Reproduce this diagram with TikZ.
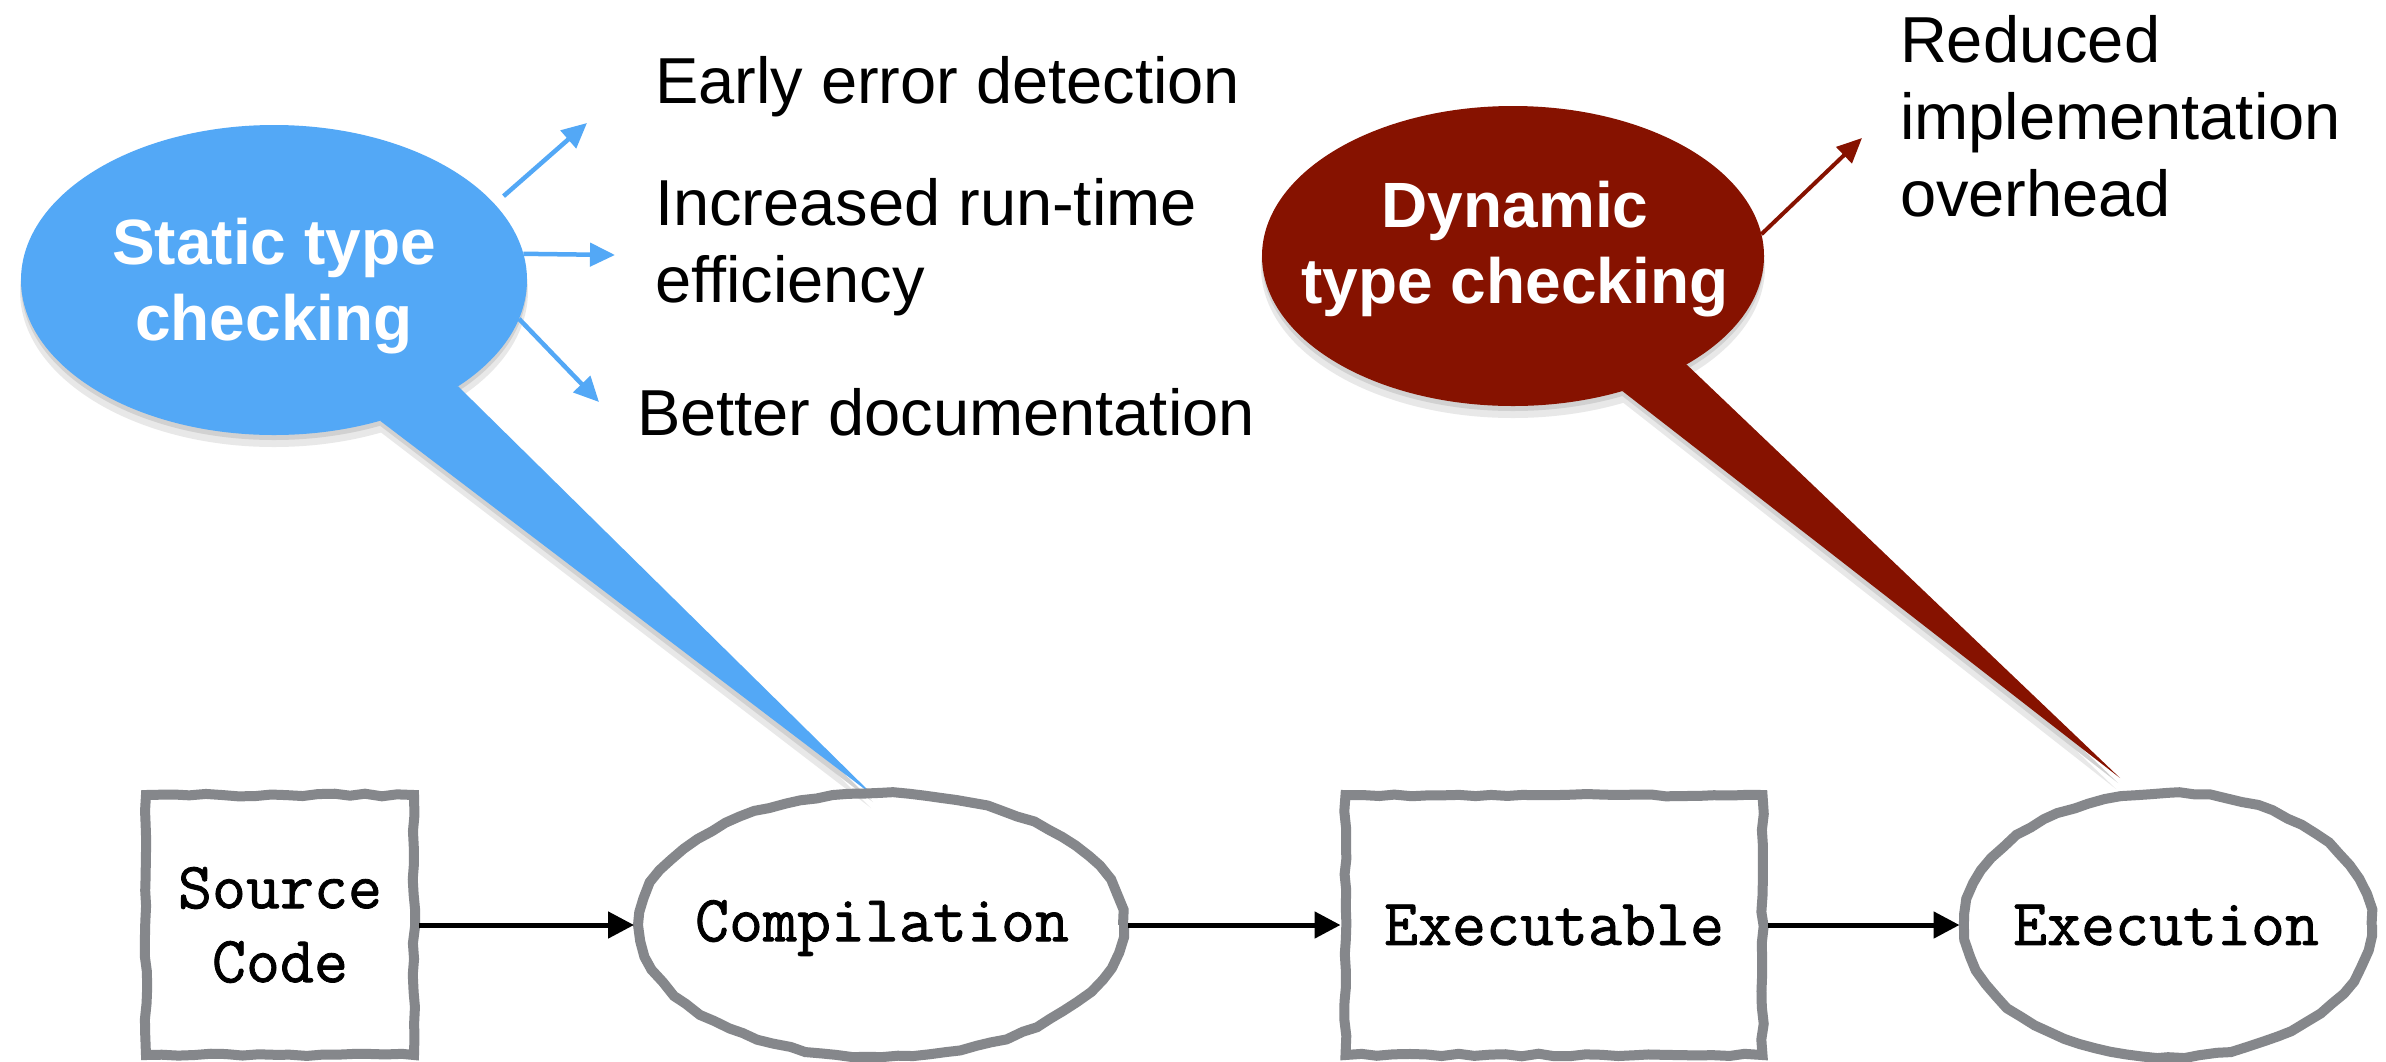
\documentclass[tikz,border=0pt]{standalone}
\usepackage{fontspec}
\setmainfont{Liberation Sans}
\newfontfamily\typew{Latin Modern Mono}[FakeBold=1.2]
\usetikzlibrary{arrows.meta,shapes.geometric,backgrounds,decorations.pathmorphing}
\definecolor{skyb}{HTML}{53A8F6}
\definecolor{darkred}{HTML}{861200}
\definecolor{edgegray}{HTML}{85878B}
\tikzset{
  bubble/.style={ellipse, inner sep=0pt, outer sep=0pt},
  bubbletext/.style={inner sep=0pt, outer sep=0pt, text=white, align=center,
    font=\fontsize{64}{76}\selectfont\bfseries},
  note/.style={inner sep=0pt, outer sep=0pt, align=left, text=black,
    font=\fontsize{65}{77}\selectfont},
  rough/.style={draw=edgegray, line width=10pt, decorate,
    decoration={random steps, segment length=16pt, amplitude=1.3pt}},
  proctext/.style={inner sep=0pt, outer sep=0pt, align=center, text=black,
    font=\typew\fontsize{66}{74}\selectfont},
  procbox/.style={rough, rectangle, inner sep=0pt, align=center,
    font=\typew\fontsize{66}{74}\selectfont, minimum height=260pt},
  procell/.style={rough, ellipse, inner sep=0pt, minimum height=264pt},
  benefit/.style={draw=skyb, line width=4.5pt, -{Triangle[length=25pt,width=23pt]}},
  drawback/.style={draw=darkred, line width=4pt, -{Triangle[length=25pt,width=22pt]}},
  flow/.style={draw=black, line width=5pt, -{Triangle[length=26pt,width=26pt]}},
  shadowA/.style={fill=black!9},
  shadowB/.style={fill=black!18}
}
\pgfmathsetseed{7}
\begin{document}
\begin{tikzpicture}[x=1pt,y=-1pt]
\useasboundingbox (0,0) rectangle (2386,1061);
\begin{pgfonlayer}{background}
  \fill[white] (0,0) rectangle (2386,1061);
\end{pgfonlayer}

% speech bubbles
\node[bubble, fill=skyb, minimum width=506pt, minimum height=310pt] (static) at (274,280) {};
\coordinate (stip) at (875,797);
\fill[skyb] (static.-53) -- (stip) -- (static.-30) -- cycle;
\node[bubbletext] (statictext) at (274,286) {Static type\\checking};

\node[bubble, fill=darkred, minimum width=502pt, minimum height=300pt] (dyn) at (1513,256) {};
\coordinate (dtip) at (2120,778);
\fill[darkred] (dyn.-51) -- (dtip) -- (dyn.-32) -- cycle;
\node[bubbletext] (dyntext) at (1515,249) {Dynamic\\type checking};

% soft shadows
\begin{pgfonlayer}{background}
  \fill[shadowA] ([yshift=-11pt]static.center) ellipse [x radius=254, y radius=156];
  \fill[shadowA] ([yshift=-11pt]static.-53) -- ([yshift=-11pt,xshift=-4pt]stip) -- ([yshift=-11pt]static.-30) -- cycle;
  \fill[shadowA] ([yshift=-11pt]dyn.center) ellipse [x radius=252, y radius=151];
  \fill[shadowA] ([yshift=-11pt]dyn.-51) -- ([yshift=-11pt,xshift=-4pt]dtip) -- ([yshift=-11pt]dyn.-32) -- cycle;
  \fill[shadowB] ([yshift=-5pt]static.center) ellipse [x radius=253, y radius=155];
  \fill[shadowB] ([yshift=-5pt]static.-53) -- ([yshift=-5pt,xshift=-2pt]stip) -- ([yshift=-5pt]static.-30) -- cycle;
  \fill[shadowB] ([yshift=-5pt]dyn.center) ellipse [x radius=251, y radius=150];
  \fill[shadowB] ([yshift=-5pt]dyn.-51) -- ([yshift=-5pt,xshift=-2pt]dtip) -- ([yshift=-5pt]dyn.-32) -- cycle;
\end{pgfonlayer}

% benefit notes
\node[note, anchor=base west] (early) at (655,103) {Early error detection};
\node[note, anchor=north west] (eff) at (655,178) {Increased run-time\\efficiency};
\node[note, anchor=base west] (doc) at (637,435) {Better documentation};
\node[note, anchor=north west] (red) at (1900,15) {Reduced\\implementation\\overhead};

\coordinate (a1) at (587,123);
\coordinate (a2) at (615,255);
\coordinate (a3) at (599,402);
\coordinate (a4) at (1862,138);
\draw[benefit, shorten <=12pt] (static.19) -- (a1);
\draw[benefit] (static.6) -- (a2);
\draw[benefit] (static.-9) -- (a3);
\draw[drawback] (dyn.5) -- (a4);

% process chain
\node[procbox, minimum width=268pt] (src) at (280,925) {Source\\Code};
\node[procell, minimum width=484pt] (comp) at (881,925) {};
\node[proctext] (comptext) at (882,928) {Compilation};
\node[procbox, minimum width=417pt] (exe) at (1554,925) {Executable};
\node[procell, minimum width=407pt] (run) at (2168,925) {};
\node[proctext] (runtext) at (2166,925) {Execution};

\draw[flow] (src.east) -- (comp.west);
\draw[flow] (comp.east) -- (exe.west);
\draw[flow] (exe.east) -- (run.west);
\end{tikzpicture}
\end{document}
